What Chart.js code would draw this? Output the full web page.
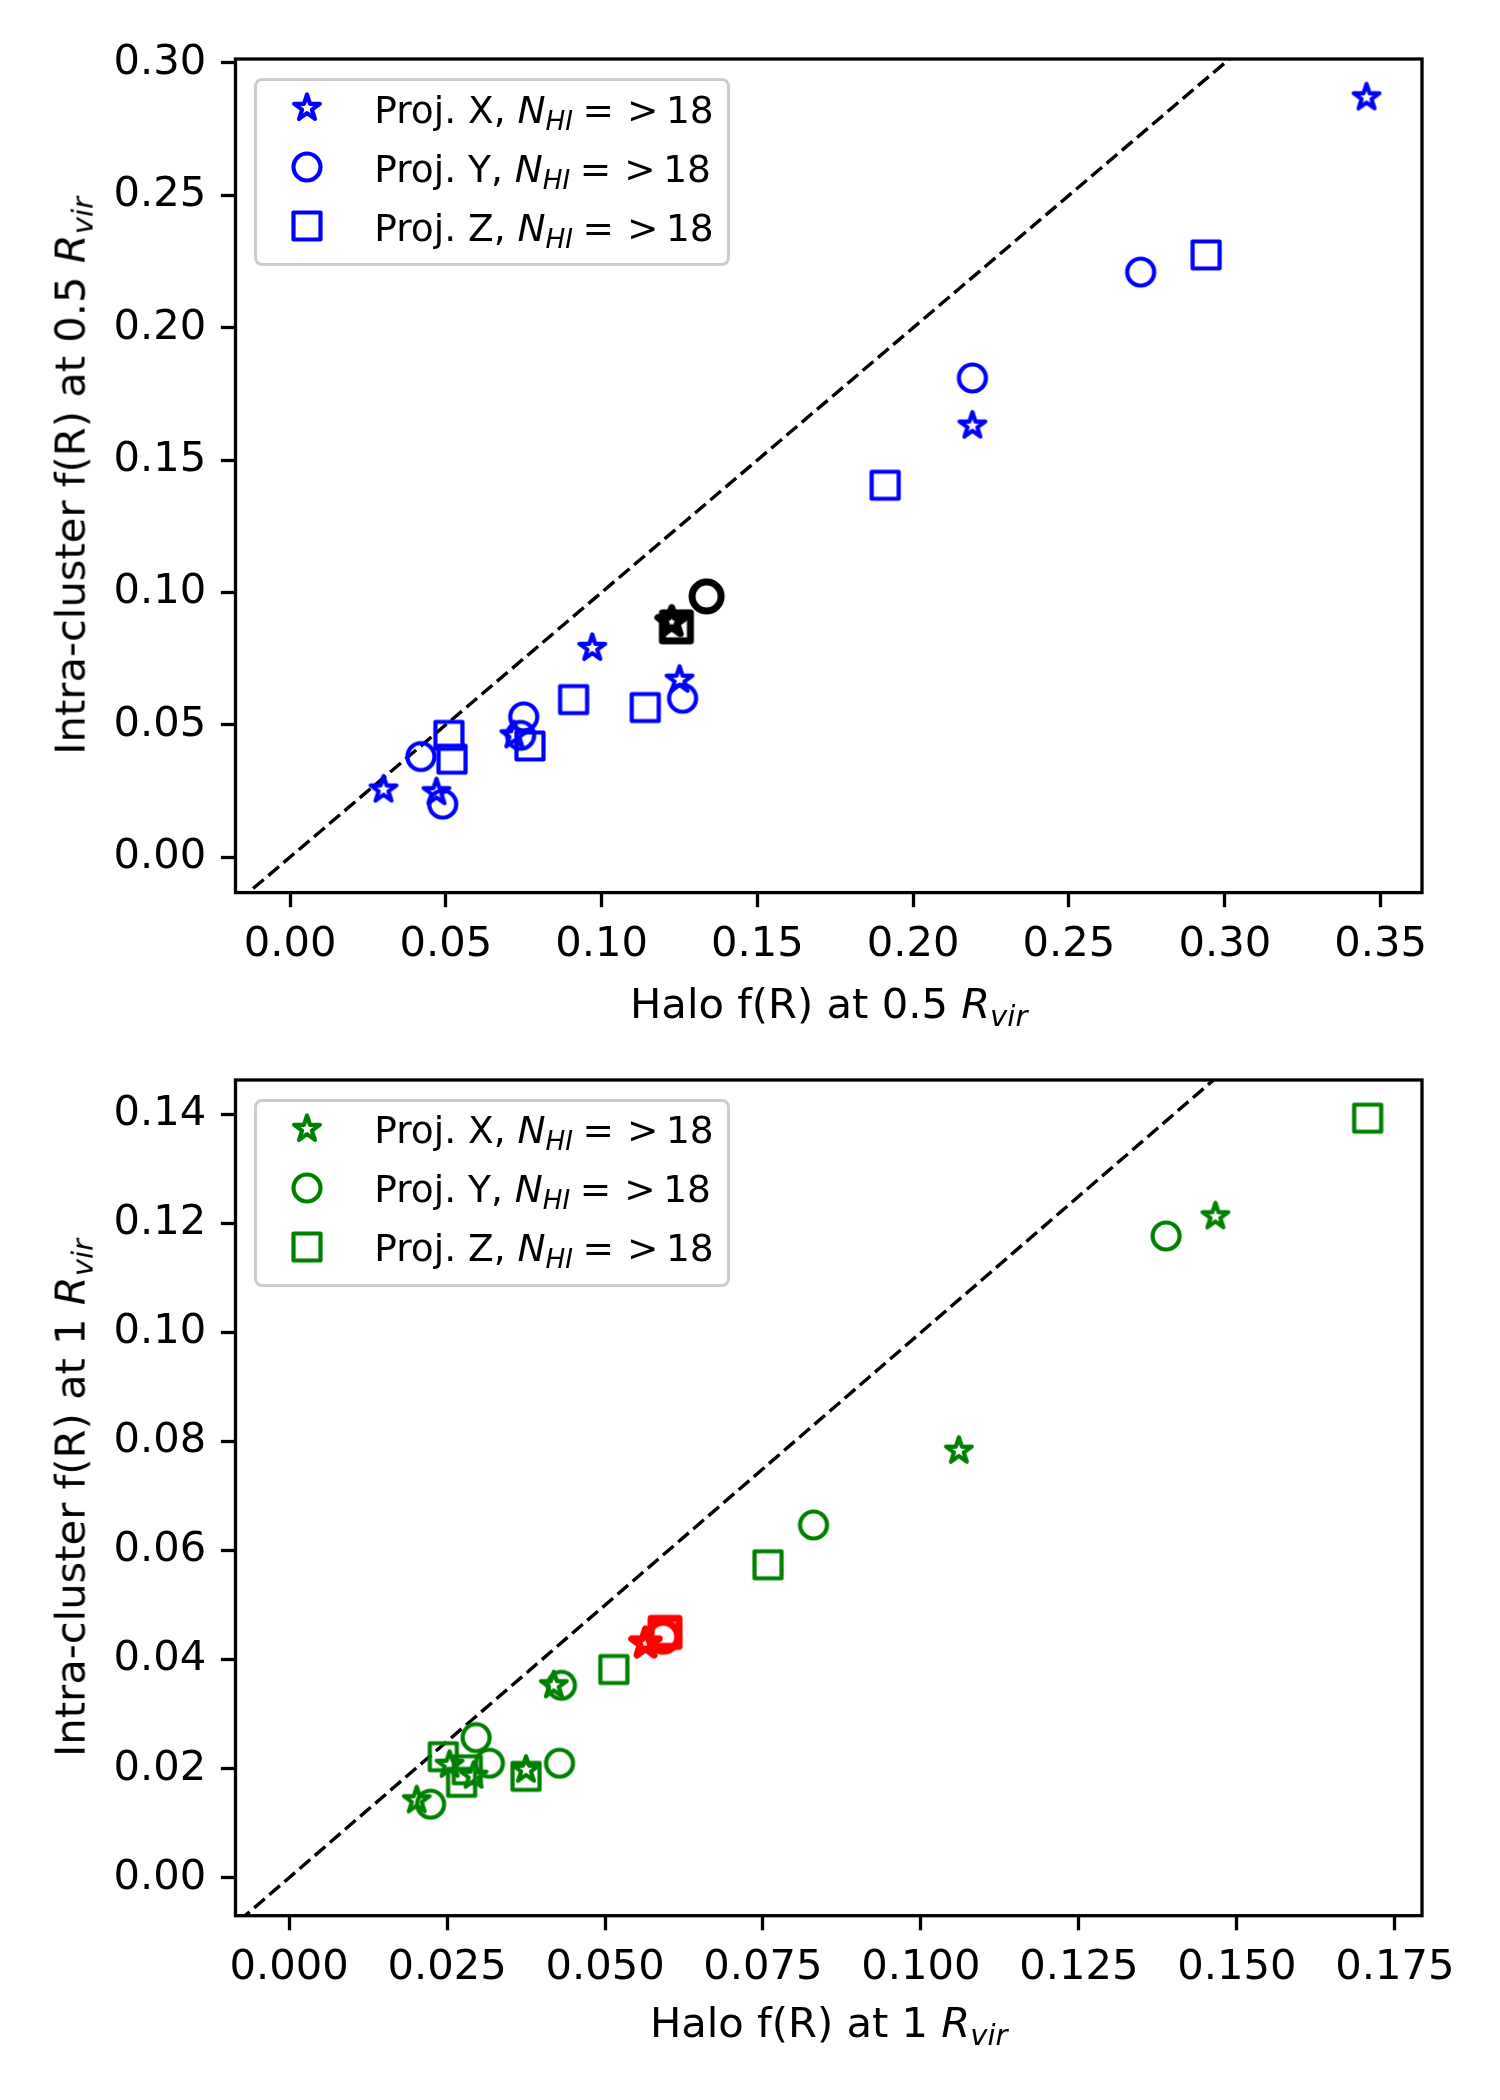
<!DOCTYPE html>
<html><head><meta charset="utf-8">
<script src="https://cdn.jsdelivr.net/npm/chart.js@4.4.1/dist/chart.umd.min.js"></script>
<style>
html,body{margin:0;padding:0;background:#fff;}
#wrap{position:relative;width:1500px;height:2100px;overflow:hidden;font-family:"DejaVu Sans",sans-serif;color:#000;}
#wrap canvas.chart{position:absolute;left:0;}
.lbl{position:absolute;left:0;top:0;white-space:nowrap;line-height:0;transform-origin:0 0;z-index:5;}
.sub{font-size:70%;position:relative;top:0.27em;}
.legend{position:absolute;border:3.3px solid #cccccc;border-radius:8px;background:rgba(255,255,255,0.8);box-sizing:border-box;z-index:4;}
.mk{position:absolute;z-index:6;}
</style></head><body><div id="wrap">
<canvas id="c1" class="chart" width="1500" height="1050" style="top:0"></canvas>
<canvas id="c2" class="chart" width="1500" height="1050" style="top:1030px"></canvas>
</div>
<script>
// ---------- data: top panel (0.5 Rvir) ----------
const starX_top   = [0.030, 0.047, 0.072, 0.097, 0.125, 0.219, 0.3455];
const starY_top   = [0.0255, 0.0245, 0.046, 0.079, 0.067, 0.163, 0.287];
const circleX_top = [0.042, 0.049, 0.074, 0.075, 0.126, 0.219, 0.273];
const circleY_top = [0.038, 0.020, 0.046, 0.053, 0.060, 0.181, 0.221];
const squareX_top = [0.051, 0.052, 0.077, 0.091, 0.114, 0.191, 0.294];
const squareY_top = [0.046, 0.037, 0.042, 0.0595, 0.0565, 0.1405, 0.2275];
const meanX_top = [0.1225, 0.1337, 0.124];   // star, circle, square
const meanY_top = [0.0888, 0.0985, 0.087];
// ---------- data: bottom panel (1 Rvir) ----------
const starX_bot   = [0.0202, 0.0254, 0.0292, 0.0375, 0.0419, 0.106, 0.1466];
const starY_bot   = [0.0142, 0.0207, 0.0187, 0.0198, 0.0353, 0.0783, 0.1213];
const circleX_bot = [0.0224, 0.0296, 0.0317, 0.0428, 0.0431, 0.083, 0.1388];
const circleY_bot = [0.0135, 0.0257, 0.0210, 0.0210, 0.0353, 0.0647, 0.1177];
const squareX_bot = [0.0244, 0.0273, 0.0282, 0.0375, 0.0514, 0.0758, 0.1707];
const squareY_bot = [0.0222, 0.0175, 0.0198, 0.0186, 0.0382, 0.0574, 0.1393];
const meanX_bot = [0.0564, 0.0592, 0.0595];
const meanY_bot = [0.0430, 0.0442, 0.0450];
// ---------- ticks ----------
const xTicks_top = [0.00, 0.05, 0.10, 0.15, 0.20, 0.25, 0.30, 0.35];
const yTicks_top = [0.00, 0.05, 0.10, 0.15, 0.20, 0.25, 0.30];
const xTicks_bot = [0.000, 0.025, 0.050, 0.075, 0.100, 0.125, 0.150, 0.175];
const yTicks_bot = [0.00, 0.02, 0.04, 0.06, 0.08, 0.10, 0.12, 0.14];
const seriesNames = ['Proj. X', 'Proj. Y', 'Proj. Z'];

const wrap = document.getElementById('wrap');
const FS = 41.67, LFS = 37.5;

function marker(shape, size, lw, color) {
  const R = size / 2, pad = lw + 2;
  const dim = Math.ceil(size + 2 * pad);
  const c = document.createElement('canvas');
  c.width = dim; c.height = dim;
  const g = c.getContext('2d');
  g.strokeStyle = color; g.lineWidth = lw; g.lineJoin = 'round'; g.lineCap = 'round';
  const cx = dim / 2, cy = dim / 2;
  g.beginPath();
  if (shape === 'circle') g.arc(cx, cy, R, 0, 2 * Math.PI);
  else if (shape === 'square') g.rect(cx - R, cy - R, 2 * R, 2 * R);
  else {
    for (let k = 0; k < 10; k++) {
      const r = (k % 2) ? R * 0.381966 : R;
      const a = -Math.PI / 2 + k * Math.PI / 5;
      const px = cx + r * Math.cos(a), py = cy + r * Math.sin(a);
      if (k === 0) g.moveTo(px, py); else g.lineTo(px, py);
    }
    g.closePath();
  }
  g.stroke();
  return c;
}
const zip = (xs, ys) => xs.map((x, i) => ({x: x, y: ys[i]}));

function buildDatasets(sx, sy, cx, cy, qx, qy, mx, my, col, mcol) {
  const shapes = ['star', 'circle', 'square'];
  const list = [];
  list.push({data: [{x: -1, y: -1}, {x: 1, y: 1}], showLine: true, borderColor: '#000',
             borderWidth: 3.4, borderDash: [14, 6], pointRadius: 0, fill: false});
  const xs = [sx, cx, qx], ys = [sy, cy, qy];
  for (let i = 0; i < 3; i++) {
    list.push({label: seriesNames[i], data: zip(xs[i], ys[i]),
               pointStyle: marker(shapes[i], 27, 4.2, col), pointRadius: 14, showLine: false});
  }
  for (let i = 0; i < 3; i++) {
    list.push({data: [{x: mx[i], y: my[i]}],
               pointStyle: marker(shapes[i], i === 2 ? 28 : 29, 7, mcol), pointRadius: 15, showLine: false});
  }
  list.forEach((d, i) => { d.order = 100 - i; });
  return list;
}

const framePlugin = {
  id: 'frame',
  afterDatasetsDraw(chart) {
    const {ctx, chartArea: a} = chart;
    ctx.save(); ctx.lineWidth = 3.3; ctx.strokeStyle = '#000';
    ctx.strokeRect(a.left, a.top, a.right - a.left, a.bottom - a.top);
    ctx.restore();
  }
};

function makeChart(id, o) {
  const H = 1050;
  const tickFont = {family: 'DejaVu Sans', size: FS};
  new Chart(document.getElementById(id), {
    type: 'scatter',
    data: {datasets: o.datasets},
    options: {
      responsive: false, animation: false, devicePixelRatio: 1, events: [],
      layout: {autoPadding: false, padding: {left: 0, right: 1500 - 1422, top: o.top, bottom: 0}},
      plugins: {legend: {display: false}, tooltip: {enabled: false}},
      scales: {
        x: {type: 'linear', position: 'bottom', min: o.xMin, max: o.xMax,
            afterBuildTicks: s => { s.ticks = o.xTicks.map(v => ({value: v})); },
            ticks: {autoSkip: false, maxRotation: 0, minRotation: 0, padding: 13, color: '#000',
                    font: tickFont, callback: v => Number(v).toFixed(o.xDec)},
            grid: {drawOnChartArea: false, drawTicks: true, tickLength: 14.6, tickWidth: 3.3, tickColor: '#000'},
            border: {display: false},
            afterFit: s => { s.height = H - o.bottom; }},
        y: {type: 'linear', position: 'left', min: o.yMin, max: o.yMax,
            afterBuildTicks: s => { s.ticks = o.yTicks.map(v => ({value: v})); },
            ticks: {autoSkip: false, padding: 14.6, color: '#000', font: tickFont,
                    callback: v => Number(v).toFixed(o.yDec)},
            grid: {drawOnChartArea: false, drawTicks: true, tickLength: 14.6, tickWidth: 3.3, tickColor: '#000'},
            border: {display: false},
            afterFit: s => { s.width = 235.5; }}
      }
    },
    plugins: [framePlugin]
  });
}

makeChart('c1', {
  datasets: buildDatasets(starX_top, starY_top, circleX_top, circleY_top, squareX_top, squareY_top,
                          meanX_top, meanY_top, '#0000ff', '#000000'),
  xMin: -0.0175, xMax: 0.3633, yMin: -0.0134, yMax: 0.3015,
  xTicks: xTicks_top, yTicks: yTicks_top, xDec: 2, yDec: 2, top: 59, bottom: 892.6
});
makeChart('c2', {
  datasets: buildDatasets(starX_bot, starY_bot, circleX_bot, circleY_bot, squareX_bot, squareY_bot,
                          meanX_bot, meanY_bot, '#008000', '#ff0000'),
  xMin: -0.00848, xMax: 0.1793, yMin: -0.00696, yMax: 0.1463,
  xTicks: xTicks_bot, yTicks: yTicks_bot, xDec: 3, yDec: 2, top: 50, bottom: 885.7
});

// ---------- text labels (HTML) ----------
function addLabel(html, x, y, fs, rotate, align) {
  const d = document.createElement('div');
  d.className = 'lbl'; d.style.fontSize = fs + 'px'; d.innerHTML = html;
  wrap.appendChild(d);
  const tx = align === 'left' ? '0px' : '-50%';
  d.style.transform = 'translate(' + x + 'px,' + y + 'px)' + (rotate ? ' rotate(-90deg)' : '') +
                      ' translate(' + tx + ',' + (-0.346 * fs) + 'px)';
}
const Rvir = '<i>R</i><span class="sub"><i>vir</i></span>';
addLabel('Halo f(R) at 0.5 ' + Rvir, 828.75, 1018, FS, false);
addLabel('Intra-cluster f(R) at 0.5 ' + Rvir, 85, 475.8, FS, true);
addLabel('Halo f(R) at 1 ' + Rvir, 828.75, 2037, FS, false);
addLabel('Intra-cluster f(R) at 1 ' + Rvir, 85, 1497.9, FS, true);

const legText = n => n + ', <i>N</i><span class="sub"><i>HI</i></span>' +
  '<span style="margin-left:0.25em">=</span><span style="margin-left:0.35em">&gt;</span>' +
  '<span style="margin-left:0.2em">18</span>';

function addLegend(boxTop, col) {
  const b = document.createElement('div');
  b.className = 'legend';
  b.style.left = '254.25px'; b.style.top = boxTop + 'px';
  b.style.width = (730 - 254.25) + 'px'; b.style.height = '188px';
  wrap.appendChild(b);
  const shapes = ['star', 'circle', 'square'];
  for (let i = 0; i < 3; i++) {
    const my = boxTop + 29.8 + 59 * i;
    const m = marker(shapes[i], 27, 4.2, col);
    m.className = 'mk';
    m.style.left = (306.75 - m.width / 2) + 'px';
    m.style.top = (my - m.height / 2) + 'px';
    wrap.appendChild(m);
    addLabel(legText(seriesNames[i]), 374.25, my + 14.7, LFS, false, 'left');
  }
}
addLegend(78, '#0000ff');
addLegend(1098.75, '#008000');
</script>
</body></html>
